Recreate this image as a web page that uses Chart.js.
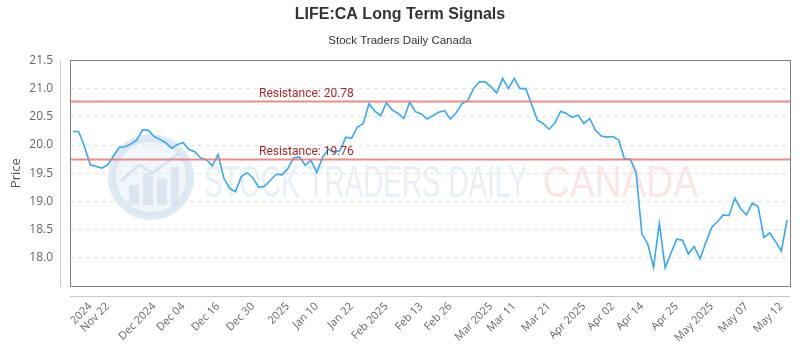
<!DOCTYPE html>
<html><head><meta charset="utf-8">
<script src="https://cdn.jsdelivr.net/npm/chart.js@4.4.1/dist/chart.umd.min.js"></script>
<style>html,body{margin:0;padding:0;background:#fff}</style>
</head><body>
<canvas id="c" width="800" height="350" style="width:800px;height:350px;display:block"></canvas>
<script>
const prices = [20.24,20.24,19.97,19.65,19.62,19.59,19.65,19.81,19.96,19.97,
  20.02,20.09,20.27,20.26,20.15,20.10,20.04,19.94,20.01,20.04,
  19.92,19.88,19.77,19.74,19.63,19.83,19.41,19.23,19.17,19.44,
  19.51,19.42,19.25,19.27,19.37,19.48,19.47,19.58,19.77,19.79,
  19.64,19.73,19.51,19.78,19.93,19.87,19.90,20.14,20.12,20.32,
  20.38,20.73,20.60,20.52,20.75,20.62,20.56,20.47,20.76,20.59,
  20.55,20.46,20.52,20.58,20.61,20.46,20.57,20.73,20.79,21.00,
  21.12,21.12,21.03,20.92,21.18,21.00,21.18,21.00,21.00,20.72,
  20.44,20.38,20.28,20.39,20.60,20.56,20.49,20.53,20.38,20.47,
  20.26,20.16,20.14,20.15,20.09,19.75,19.75,19.51,18.42,18.25,
  17.83,18.61,17.82,18.08,18.33,18.31,18.07,18.20,17.98,18.27,
  18.54,18.64,18.76,18.75,19.06,18.87,18.76,18.97,18.91,18.36,
  18.44,18.29,18.12,18.67];
const tickIndex = [3,6,14,19,25,31,37,42,48,54,60,65,72,76,82,88,93,98,104,110,116,122];
const tickLabels = ["2024","Nov 22","Dec 2024","Dec 04","Dec 16","Dec 30","2025","Jan 10","Jan 22","Feb 2025","Feb 13","Feb 26","Mar 2025","Mar 11","Mar 21","Apr 2025","Apr 02","Apr 14","Apr 25","May 2025","May 07","May 12"];
const resistanceLevels = [20.78, 19.76];
const yMin = 17.5, yMax = 21.5, yStep = 0.5;

const categories = prices.map((_, i) => {
  const k = tickIndex.indexOf(i);
  return k >= 0 ? tickLabels[k] : '';
});

const framePlugin = {
  id: 'frame',
  beforeDraw(chart) {
    const ctx = chart.ctx;
    ctx.save();
    const cx = 151, cy = 177, r = 39;
    ctx.beginPath(); ctx.arc(cx, cy, r, 0, Math.PI * 2);
    ctx.fillStyle = 'rgba(225,236,245,0.45)'; ctx.fill();
    ctx.lineWidth = 8; ctx.strokeStyle = 'rgba(212,227,240,0.75)'; ctx.stroke();
    ctx.fillStyle = 'rgba(205,220,233,0.6)';
    [[-22,8,10,20],[-8,-4,10,32],[6,2,10,26],[20,-10,8,38]].forEach(b => {
      ctx.fillRect(cx + b[0], cy + b[1], b[2], b[3]);
    });
    ctx.beginPath(); ctx.moveTo(cx - 30, cy + 4); ctx.lineTo(cx - 12, cy - 12); ctx.lineTo(cx + 2, cy - 4); ctx.lineTo(cx + 28, cy - 24);
    ctx.lineWidth = 3; ctx.strokeStyle = 'rgba(205,220,233,0.7)'; ctx.stroke();
    ctx.textBaseline = 'alphabetic';
    ctx.font = '44px "Liberation Sans", sans-serif';
    const drawStretched = (txt, x0, x1, base, color) => {
      const w = ctx.measureText(txt).width;
      ctx.save(); ctx.translate(x0, base); ctx.scale((x1 - x0) / w, 1);
      ctx.fillStyle = color; ctx.fillText(txt, 0, 0); ctx.restore();
    };
    drawStretched('STOCK TRADERS DAILY', 204, 527, 197, 'rgba(214,226,238,0.55)');
    drawStretched('CANADA', 543, 698, 197, 'rgba(248,205,205,0.5)');
    ctx.restore();
  },
  afterDatasetsDraw(chart) {
    const { ctx, chartArea: a, scales: { y } } = chart;
    ctx.save();
    resistanceLevels.forEach(v => {
      const py = Math.round(y.getPixelForValue(v)) + 0.5;
      ctx.beginPath(); ctx.moveTo(a.left, py); ctx.lineTo(a.right, py);
      ctx.lineWidth = 2; ctx.strokeStyle = 'rgba(228,120,120,0.85)'; ctx.stroke();
      ctx.font = '12px Roboto, sans-serif';
      ctx.fillStyle = '#a52a2a'; ctx.textBaseline = 'alphabetic'; ctx.textAlign = 'left';
      ctx.fillText('Resistance: ' + v.toFixed(2), a.left + 189, py - 5);
    });
    ctx.restore();
  },
  afterDraw(chart) {
    const { ctx, chartArea: a } = chart;
    ctx.save();
    ctx.lineWidth = 1;
    ctx.strokeStyle = '#808080';
    ctx.strokeRect(Math.round(a.left) + 0.5, Math.round(a.top) + 0.5, Math.round(a.right - a.left), Math.round(a.bottom - a.top));
    ctx.strokeStyle = '#c8c8c8';
    ctx.beginPath();
    ctx.moveTo(Math.round(a.left) - 9.5, a.top); ctx.lineTo(Math.round(a.left) - 9.5, a.bottom + 1);
    ctx.moveTo(a.left, Math.round(a.bottom) + 10.5); ctx.lineTo(a.right, Math.round(a.bottom) + 10.5);
    ctx.stroke();
    ctx.restore();
  }
};

new Chart(document.getElementById('c'), {
  type: 'line',
  data: {
    labels: categories,
    datasets: [{
      label: 'Price',
      data: prices,
      borderColor: '#36a8f6',
      borderWidth: 1.6,
      pointRadius: 0,
      tension: 0,
      fill: false
    }]
  },
  options: {
    responsive: false,
    animation: false,
    devicePixelRatio: 1,
    layout: { padding: { left: 0, right: 0, top: 0, bottom: 0 } },
    plugins: {
      legend: { display: false },
      tooltip: { enabled: false },
      title: {
        display: true, text: 'LIFE:CA Long Term Signals', color: '#333',
        font: { family: '"Liberation Sans", sans-serif', size: 16, weight: 'bold' },
        padding: { top: 5, bottom: 9.4 }
      },
      subtitle: {
        display: true, text: 'Stock Traders Daily Canada', color: '#333',
        font: { family: '"Liberation Sans", sans-serif', size: 11.5 },
        padding: { top: 0, bottom: 13 }
      }
    },
    scales: {
      x: {
        type: 'category',
        offset: true,
        grid: { display: false, drawTicks: false },
        border: { display: false },
        ticks: {
          autoSkip: false, minRotation: 45, maxRotation: 45, padding: 14,
          color: '#666', font: { family: '"Open Sans", sans-serif', size: 11 }
        },
        afterFit(s) { s.height = 64; s.paddingLeft = 0; s.paddingRight = 10; }
      },
      y: {
        min: yMin, max: yMax,
        grid: { color: '#e2e2e2', drawTicks: false },
        border: { display: false, dash: [4, 4] },
        ticks: {
          stepSize: yStep, padding: 17, color: '#666',
          font: { family: '"Open Sans", sans-serif', size: 12 },
          callback: v => (v < yMin + 0.25 ? '' : Number(v).toFixed(1))
        },
        title: {
          display: true, text: 'Price', color: '#555',
          font: { family: '"Open Sans", sans-serif', size: 13 },
          padding: { top: 8, bottom: 0 }
        },
        afterFit(s) { s.width = 70; }
      }
    }
  },
  plugins: [framePlugin]
});
</script>
</body></html>
